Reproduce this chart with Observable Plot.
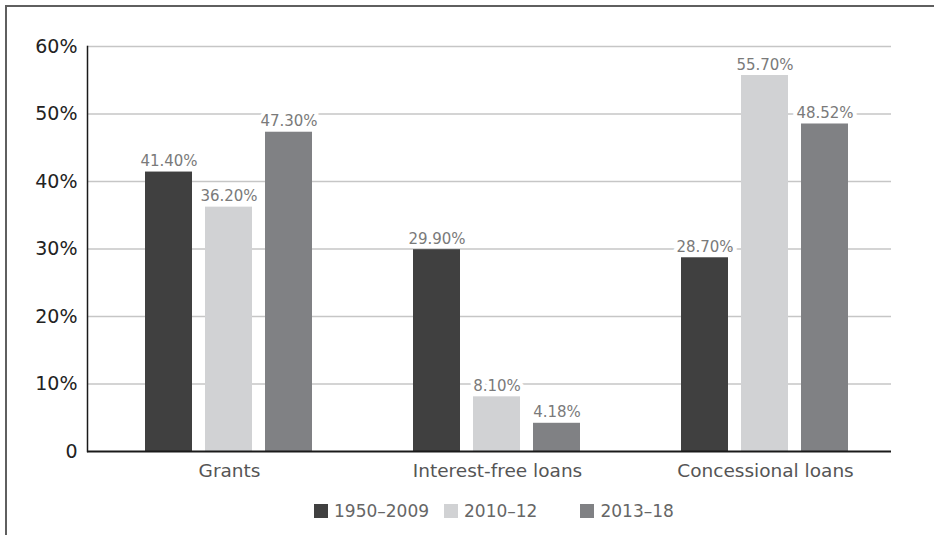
<!DOCTYPE html>
<html>
<head>
<meta charset="utf-8">
<script src="https://cdn.jsdelivr.net/npm/d3@7"></script>
<script src="https://cdn.jsdelivr.net/npm/@observablehq/plot@0.6"></script>
<style>
  html, body { margin: 0; padding: 0; background: #fff; }
  body { width: 934px; height: 535px; position: relative; overflow: hidden; font-family: "DejaVu Sans", sans-serif; }
  #frame { position: absolute; left: 5px; top: 5px; width: 940px; height: 540px; border-top: 2px solid #5f5f5f; border-left: 2px solid #5f5f5f; }
  #chart { position: absolute; left: 0; top: 0; }
  #legend { position: absolute; left: 314px; top: 501px; display: flex; align-items: center; font-size: 17px; color: #666; }
  .item { display: flex; align-items: center; }
  .sw { width: 14px; height: 14px; margin-right: 6px; }
</style>
</head>
<body>
<div id="frame"></div>
<div id="chart"></div>
<div id="legend"></div>
<script>
const categories = ["Grants", "Interest-free loans", "Concessional loans"];
const periods = ["1950–2009", "2010–12", "2013–18"];
const share1950_2009 = [41.40, 29.90, 28.70];
const share2010_12 = [36.20, 8.10, 55.70];
const share2013_18 = [47.30, 4.18, 48.52];
const yTicks = [0, 10, 20, 30, 40, 50, 60];
const colors = ["#404040", "#d1d2d4", "#808184"];
const legendGaps = [15, 43, 0];

const series = [share1950_2009, share2010_12, share2013_18];
const data = periods.flatMap((p, j) => categories.map((c, i) => ({category: c, period: p, value: series[j][i]})));

const chart = Plot.plot({
  width: 934,
  height: 490,
  marginLeft: 87,
  marginRight: 43,
  marginTop: 46,
  marginBottom: 39,
  style: {fontFamily: "DejaVu Sans", background: "transparent", overflow: "visible"},
  fx: {domain: categories, padding: 0, label: null},
  x: {domain: periods, paddingInner: 0.215, paddingOuter: 0.822, align: 0.573, axis: null},
  y: {domain: [0, 60], label: null},
  color: {domain: periods, range: colors},
  marks: [
    Plot.gridY(yTicks.slice(1), {stroke: "#c6c6c6", strokeOpacity: 1, strokeWidth: 1.5}),
    Plot.barY(data, {fx: "category", x: "period", y: "value", fill: "period"}),
    Plot.text(data, {
      fx: "category", x: "period", y: "value",
      text: d => d.value.toFixed(2) + "%",
      lineAnchor: "bottom", dy: -6,
      fill: "#7a7a7a", stroke: "white", strokeWidth: 8, fontSize: 15
    }),
    Plot.ruleY([0], {stroke: "#1a1a1a", strokeWidth: 2}),
    Plot.axisY(yTicks, {tickSize: 0, tickPadding: 10, tickFormat: d => d === 0 ? "0" : d + "%", fontSize: 19, fill: "#222", label: null}),
    Plot.frame({anchor: "left", stroke: "#1a1a1a", strokeWidth: 1.5, facetAnchor: "left"}),
    Plot.axisFx({anchor: "bottom", tickSize: 0, tickPadding: 12, dx: 8, fontSize: 18.5, fill: "#555", label: null})
  ]
});
document.getElementById("chart").appendChild(chart);

const legend = document.getElementById("legend");
periods.forEach((p, i) => {
  const item = document.createElement("div");
  item.className = "item";
  item.style.marginRight = legendGaps[i] + "px";
  const sw = document.createElement("div");
  sw.className = "sw";
  sw.style.background = colors[i];
  const t = document.createElement("span");
  t.textContent = p;
  item.appendChild(sw);
  item.appendChild(t);
  legend.appendChild(item);
});
</script>
</body>
</html>
